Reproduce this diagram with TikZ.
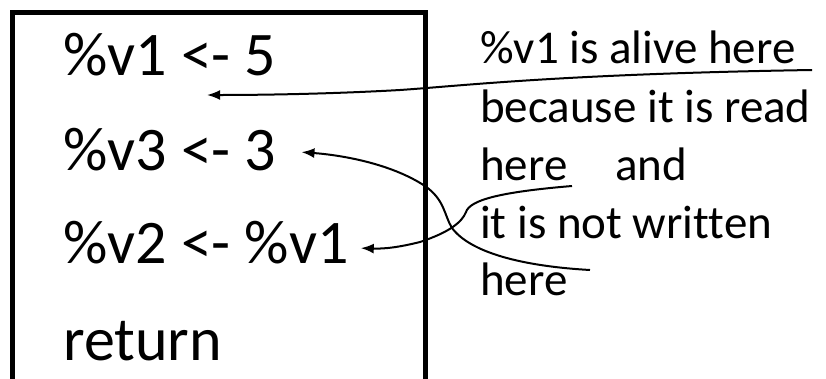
\documentclass[tikz,border=0pt]{standalone}
\usepackage{fontspec}
\setmainfont{Carlito}[Ligatures={NoCommon}]
\usepackage{tikz}
\usetikzlibrary{arrows.meta,positioning,calc}

\begin{document}
\begin{tikzpicture}[x=1pt, y=-1pt]
    \tikzstyle{code}=[anchor=base west, inner sep=0pt, font=\fontsize{62}{62}\selectfont]
    \tikzstyle{note}=[anchor=base west, inner sep=0pt, font=\fontsize{47}{47}\selectfont]
    \tikzstyle{link}=[line width=2pt, -{Latex[length=13pt,width=10pt]}]
    \useasboundingbox (0,0) rectangle (826,378);
    % the program
    \draw[line width=5pt] (12,390) |- (425,12) -- (425,390);
    \node[code] (l1) at (63,75) {\%v1 <- 5};
    \node[code] (l2) at (63,170) {\%v3 <- 3};
    \node[code] (l3) at (63,263) {\%v2 <- \%v1};
    \node[code] (l4) at (63,360) {return};
    % the remarks
    \node[note] (alive) at (480,63) {\%v1 is alive here};
    \node[note] (because) at (480,122) {because it is read};
    \node[note] (read) at (480,180) {here};
    \node[note] (and) at (615,180) {and};
    \node[note] (notw) at (480,238) {it is not written};
    \node[note] (written) at (480,295) {here};
    % underlines turned into arrows
    \coordinate (aliveU) at (812,70);
    \coordinate (readU) at (572,186);
    \coordinate (writtenU) at (590,270);
    \coordinate (live) at (207,95);
    \draw[link] (aliveU) .. controls (560,74) and (460,86) .. (400,90)
        .. controls (330,94) and (260,95) .. (live);
    \draw[link] (readU) .. controls (500,192) and (470,200) .. (466,212)
        .. controls (462,222) and (450,232) .. (420,242)
        .. controls (400,247) and (385,249) .. ($(l3.east)+(12,6)$);
    \draw[link] (writtenU) .. controls (520,266) and (470,252) .. (452,228)
        .. controls (444,215) and (445,200) .. (425,186)
        .. controls (390,163) and (340,155) .. ($(l2.east)+(25,3)$);
\end{tikzpicture}
\end{document}
